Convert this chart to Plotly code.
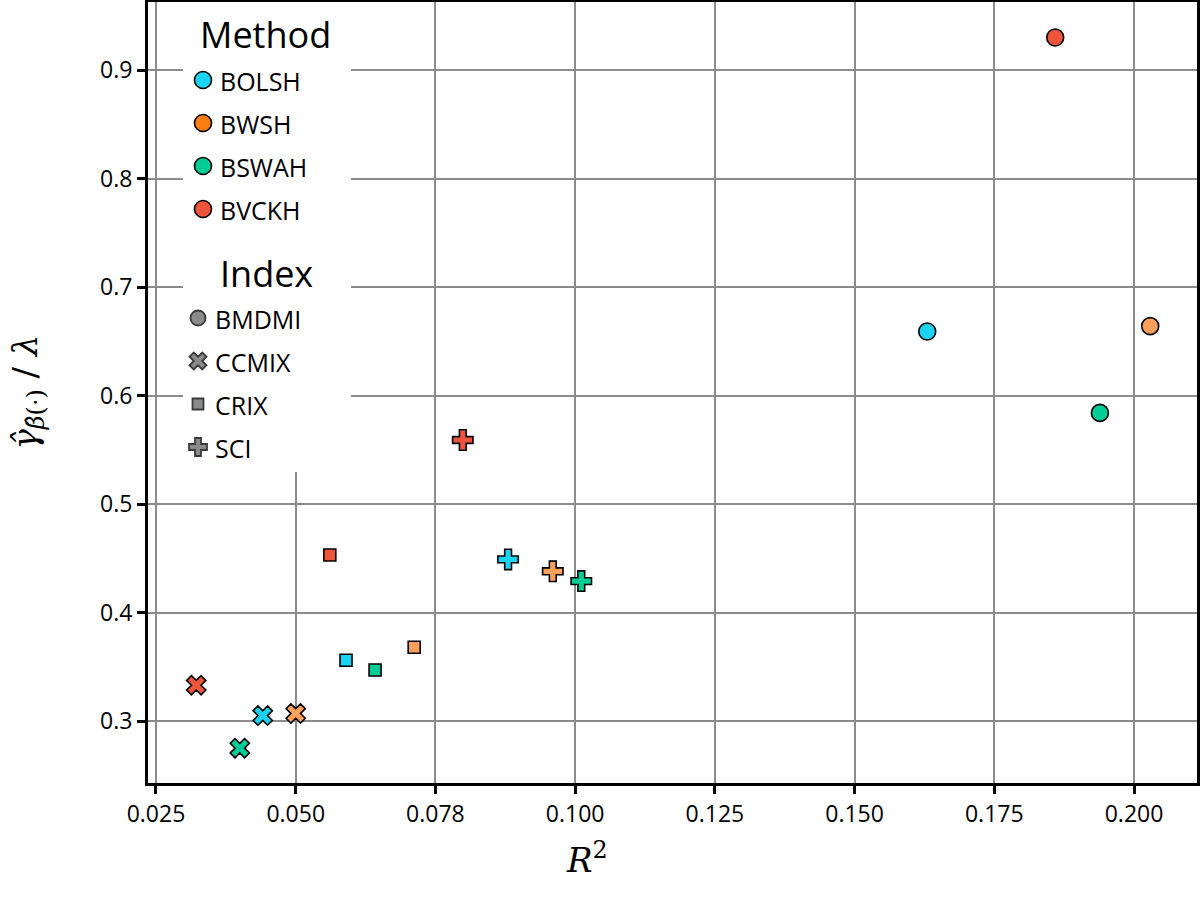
import plotly.graph_objects as go

methods = ["BOLSH", "BWSH", "BSWAH", "BVCKH"]
indices = ["BMDMI", "CCMIX", "CRIX", "SCI"]

# R^2 and gamma/lambda for each index, ordered like `methods`
r2_bmdmi = [0.1630, 0.2029, 0.1939, 0.1859]
gamma_bmdmi = [0.659, 0.664, 0.584, 0.930]
r2_ccmix = [0.0441, 0.0500, 0.0400, 0.0322]
gamma_ccmix = [0.305, 0.307, 0.275, 0.333]
r2_crix = [0.0590, 0.0712, 0.0642, 0.0561]
gamma_crix = [0.356, 0.368, 0.347, 0.453]
r2_sci = [0.0880, 0.0960, 0.1011, 0.0799]
gamma_sci = [0.449, 0.438, 0.429, 0.559]

x_tickvals = [0.025, 0.050, 0.075, 0.100, 0.125, 0.150, 0.175, 0.200]
x_ticktext = ["0.025", "0.050", "0.078", "0.100", "0.125", "0.150", "0.175", "0.200"]
y_tickvals = [0.3, 0.4, 0.5, 0.6, 0.7, 0.8, 0.9]

point_colors = ["#19D3F3", "#FFA15A", "#00CC96", "#EF553B"]
legend_colors = ["#19D3F3", "#FF7F0E", "#00CC96", "#EF553B"]
symbols = {"BMDMI": "circle", "CCMIX": "x", "CRIX": "square", "SCI": "cross"}
sizes = {"BMDMI": 17, "CCMIX": 17, "CRIX": 12, "SCI": 17}

data = {
    "BMDMI": (r2_bmdmi, gamma_bmdmi),
    "CCMIX": (r2_ccmix, gamma_ccmix),
    "CRIX": (r2_crix, gamma_crix),
    "SCI": (r2_sci, gamma_sci),
}

W, H = 1200, 899
ML, MR, MT, MB = 148, 3, 2, 116
PW, PH = W - ML - MR, H - MT - MB

fig = go.Figure()

# white box behind the hand made legend (pixel axis x2/y2, y counted from top)
box_x = [35, 203, 203, 35, 35]
box_y = [0, 0, 470, 470, 0]
fig.add_trace(go.Scatter(
    x=box_x, y=box_y, xaxis="x2", yaxis="y2", mode="lines", fill="toself",
    fillcolor="white", line=dict(width=0, color="white"), showlegend=False, hoverinfo="skip",
))

# the actual points
for idx in indices:
    xs, ys = data[idx]
    fig.add_trace(go.Scatter(
        x=xs, y=ys, mode="markers", showlegend=False,
        marker=dict(symbol=symbols[idx], size=sizes[idx], color=point_colors,
                    line=dict(color="black", width=1.6)),
        hoverinfo="x+y",
    ))

LEG_FONT = dict(family="Open Sans", size=25, color="black")
TITLE_FONT = dict(family="Open Sans", size=36, color="black")
ROW = 43
annotations = []


def legend_block(title, title_x, title_y, names, marker_x, first_y, markers):
    annotations.append(dict(xref="x2", yref="y2", x=title_x, y=title_y, text=title,
                            showarrow=False, xanchor="left", yanchor="middle", font=TITLE_FONT))
    for i, (name, mk) in enumerate(zip(names, markers)):
        yy = first_y + i * ROW
        fig.add_trace(go.Scatter(
            x=[marker_x], y=[yy], xaxis="x2", yaxis="y2", mode="markers",
            showlegend=False, hoverinfo="skip", marker=mk,
        ))
        annotations.append(dict(xref="x2", yref="y2", x=marker_x + 15, y=yy + 1, text=name,
                                showarrow=False, xanchor="left", yanchor="middle", font=LEG_FONT))


legend_block("Method", 50, 32, methods, 55, 78,
             [dict(symbol="circle", size=17, color=c, line=dict(color="black", width=1.6))
              for c in legend_colors])
legend_block("Index", 70, 271, indices, 50, 316,
             [dict(symbol=symbols[i], size=15 if i != "CRIX" else 11,
                   color="#8a8a8a", line=dict(color="#3a3a3a", width=1.8))
              for i in indices])

# axis titles
annotations.append(dict(xref="paper", yref="paper", x=(587 - ML) / PW, y=-(858 - MT - PH) / PH,
                        text="<i>R</i><sup>2</sup>", showarrow=False,
                        xanchor="center", yanchor="middle",
                        font=dict(family="DejaVu Serif", size=34, color="black")))
annotations.append(dict(xref="paper", yref="paper", x=-(ML - 27) / PW, y=0.5,
                        text="<i>γ̂</i><sub><i>β̂</i>(·)</sub> / <i>λ</i>", showarrow=False,
                        textangle=-90, xanchor="center", yanchor="middle",
                        font=dict(family="DejaVu Serif", size=34, color="black")))

axis_common = dict(
    showline=True, linecolor="black", linewidth=3, mirror=True,
    ticks="outside", ticklen=8, tickwidth=2.5, tickcolor="black",
    showgrid=True, gridcolor="#8c8c8c", gridwidth=1.5, zeroline=False,
    tickfont=dict(family="Open Sans", size=23, color="black"),
    automargin=False,
)

fig.update_layout(
    width=W, height=H,
    margin=dict(l=ML, r=MR, t=MT, b=MB),
    plot_bgcolor="white", paper_bgcolor="white",
    font=dict(family="Open Sans", color="black"),
    showlegend=False,
    xaxis=dict(range=[0.02357, 0.21127], tickvals=x_tickvals, ticktext=x_ticktext, **axis_common),
    yaxis=dict(range=[0.2429, 0.9627], tickvals=y_tickvals,
               ticktext=[f"{v:.1f}" for v in y_tickvals], **axis_common),
    xaxis2=dict(overlaying="x", range=[0, PW], visible=False, fixedrange=True),
    yaxis2=dict(overlaying="y", range=[PH, 0], visible=False, fixedrange=True),
    annotations=annotations,
)

fig.write_html("out.html", config={"displayModeBar": False},
               post_script="document.body.style.margin = '0px';")
